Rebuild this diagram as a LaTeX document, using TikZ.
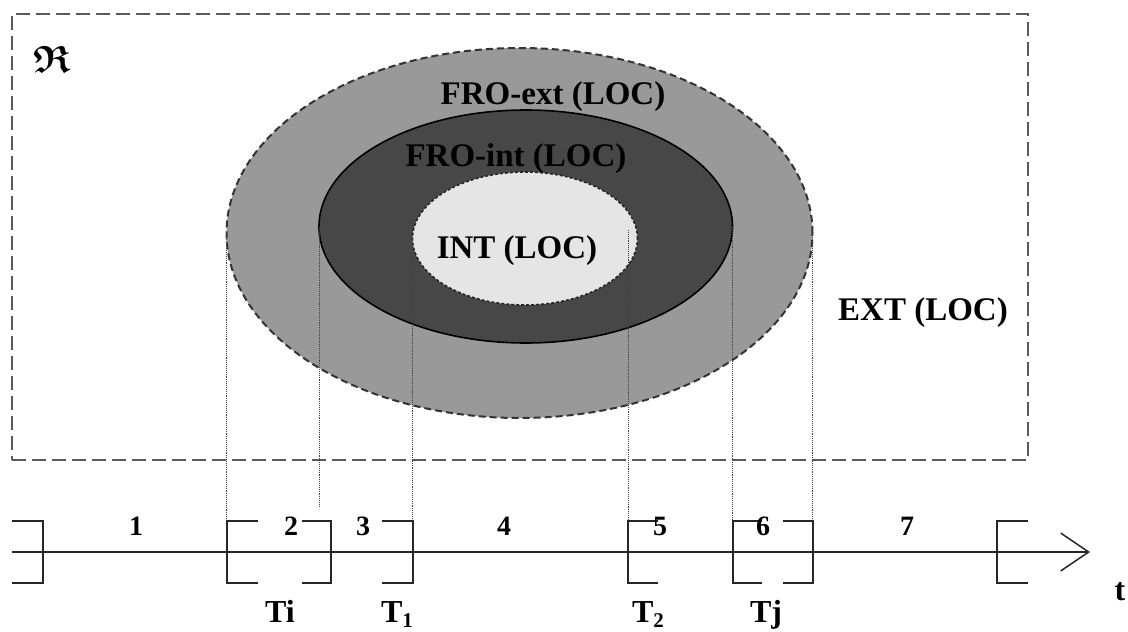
\documentclass[tikz,border=0pt]{standalone}
\usepackage{amsmath}
\usepackage{amssymb}
\usepackage{fontspec}
\setmainfont{Liberation Serif}
\usetikzlibrary{shapes.geometric,arrows.meta}
\begin{document}
\begin{tikzpicture}[x=1pt,y=-1pt,
  lbl/.style={font=\fontsize{33}{36}\selectfont\bfseries, inner sep=0, anchor=base},
  num/.style={font=\fontsize{28}{30}\selectfont\bfseries, inner sep=0, anchor=base},
  tl/.style={font=\fontsize{32}{36}\selectfont\bfseries, inner sep=0, anchor=base},
  region/.style={ellipse, inner sep=0, outer sep=0},
  brk/.style={line width=2pt, black!85},
  guide/.style={densely dotted, line width=0.9pt, black!75},
]
\useasboundingbox (0,0) rectangle (1128,632);
% universe box
\node[draw=black!65, dash pattern=on 14pt off 6pt, line width=2pt,
      minimum width=1016pt, minimum height=446pt, inner sep=0, outer sep=0,
      anchor=north west] (univ) at (12,14) {};
% regions
\node[region, draw=black!80, dash pattern=on 7pt off 4pt, line width=2pt,
      fill=black!40, minimum width=586pt, minimum height=370pt] (outer) at (519.5,233) {};
\node[region, draw=black, line width=1.6pt, fill=black!72,
      minimum width=413.5pt, minimum height=233pt] (middle) at (525.75,226.5) {};
\node[region, draw=black!85, dash pattern=on 3pt off 2pt, line width=1.6pt,
      fill=black!10, minimum width=225pt, minimum height=133pt] (inner) at (525,238.5) {};
% bracket top coordinates
\coordinate (k2) at (226.5,521);
\coordinate (k2b) at (319,507);
\coordinate (k3) at (412.5,521);
\coordinate (i2) at (628,230);
\coordinate (k5) at (628,521);
\coordinate (k6) at (732.5,521);
\coordinate (k7) at (812.5,521);
% guide lines
\draw[guide] (outer.west) -- (k2);
\draw[guide] (middle.west) -- (k2b);
\draw[guide] (inner.west) -- (k3);
\draw[guide] (i2) -- (k5);
\draw[guide] (middle.east) -- (k6);
\draw[guide] (outer.east) -- (k7);
% labels in regions
\node[lbl] (froext) at (553,104) {FRO-ext (LOC)};
\node[lbl] (froint) at (516,166) {FRO-int (LOC)};
\node[lbl] (intl) at (517,258) {INT (LOC)};
\node[lbl] (extl) at (923,320) {EXT (LOC)};
\node[inner sep=0] (frak) at (52,59) {\fontsize{38}{42}\selectfont$\boldsymbol{\mathfrak{R}}$};
% timeline
\coordinate (ts) at (12,552);
\coordinate (te) at (1090,552);
\draw[line width=1.5pt, black!85, -{Straight Barb[length=28pt,width=38pt,line width=1.5pt]}] (ts) -- (te);
% brackets
\draw[brk] (12,521) -- (43,521) -- (43,583) -- (12,583);
\draw[brk] (258,521) -- (k2) -- (226.5,583) -- (258,583);
\draw[brk] (302,521) -- (331,521) -- (331,583) -- (302,583);
\draw[brk] (382,521) -- (k3) -- (412.5,583) -- (382,583);
\draw[brk] (658,521) -- (k5) -- (628,583) -- (658,583);
\draw[brk] (762,521) -- (k6) -- (732.5,583) -- (762,583);
\draw[brk] (783,521) -- (k7) -- (812.5,583) -- (783,583);
\draw[brk] (1028,521) -- (997,521) -- (997,583) -- (1028,583);
% interval numbers
\node[num] (n1) at (136,535) {1};
\node[num] (n2) at (291,535) {2};
\node[num] (n3) at (363,535) {3};
\node[num] (n4) at (504,535) {4};
\node[num] (n5) at (660,535) {5};
\node[num] (n6) at (763,535) {6};
\node[num] (n7) at (907,535) {7};
% instants
\node[tl] (ti) at (280,622) {Ti};
\node[tl] (t1) at (397,622) {T\raisebox{-5pt}{\fontsize{21}{21}\selectfont 1}};
\node[tl] (t2) at (648,622) {T\raisebox{-5pt}{\fontsize{21}{21}\selectfont 2}};
\node[tl] (tj) at (766,622) {Tj};
\node[tl] (tt) at (1120,600) {t};
\end{tikzpicture}
\end{document}
